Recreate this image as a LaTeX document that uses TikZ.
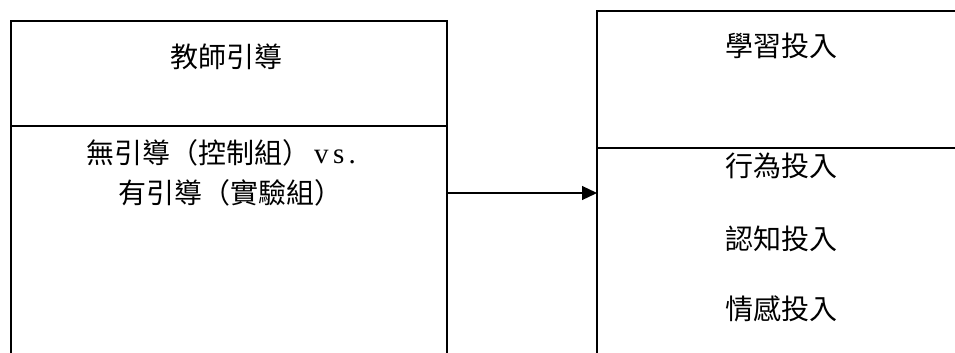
\documentclass[tikz,border=0pt]{standalone}
\usepackage{fontspec}
\setmainfont{Liberation Serif}
\newfontfamily\cjk{Noto Sans CJK TC}
\newfontfamily\latinwide[LetterSpace=15]{Liberation Serif}
\usetikzlibrary{arrows.meta}
\tikzset{
  boxline/.style={line width=1.8pt, black},
  divline/.style={line width=1.2pt, black},
  lbl/.style={font=\fontsize{28}{30}\selectfont\cjk, inner sep=0pt, anchor=center},
  link/.style={line width=1.2pt, -{Triangle[length=15pt,width=14pt]}}
}
\begin{document}
\begin{tikzpicture}[x=1pt,y=-1pt]
\useasboundingbox (0,0) rectangle (955,353);
% left box (open at the bottom, runs past the picture)
\coordinate (LTL) at (11,21);
\coordinate (LTR) at (447,21);
\coordinate (LBL) at (11,360);
\coordinate (LBR) at (447,360);
\draw[boxline] (LBL) -- (LTL) -- (LTR) -- (LBR);
\coordinate (LDL) at (11,126);
\coordinate (LDR) at (447,126);
\draw[divline] (LDL) -- (LDR);
% right box (open at the bottom and right)
\coordinate (RTL) at (597,11);
\coordinate (RTR) at (960,11);
\coordinate (RBL) at (597,360);
\draw[boxline] (RBL) -- (RTL) -- (RTR);
\coordinate (RDL) at (597,148);
\coordinate (RDR) at (960,148);
\draw[divline] (RDL) -- (RDR);
% texts
\node[lbl] (t1) at (226,57) {教師引導};
\node[lbl, anchor=west] (t2) at (86,153) {無引導（控制組）\hspace{4pt}{\latinwide\fontsize{29}{30}\selectfont vs.}};
\node[lbl, anchor=west] (t3) at (118,193) {有引導（實驗組）};
\node[lbl] (r1) at (781,46) {學習投入};
\node[lbl] (r2) at (781,166) {行為投入};
\node[lbl] (r3) at (781,239) {認知投入};
\node[lbl] (r4) at (781,309) {情感投入};
% arrow
\coordinate (A1) at (447,193);
\coordinate (A2) at (597,193);
\draw[link] (A1) -- (A2);
\end{tikzpicture}
\end{document}
